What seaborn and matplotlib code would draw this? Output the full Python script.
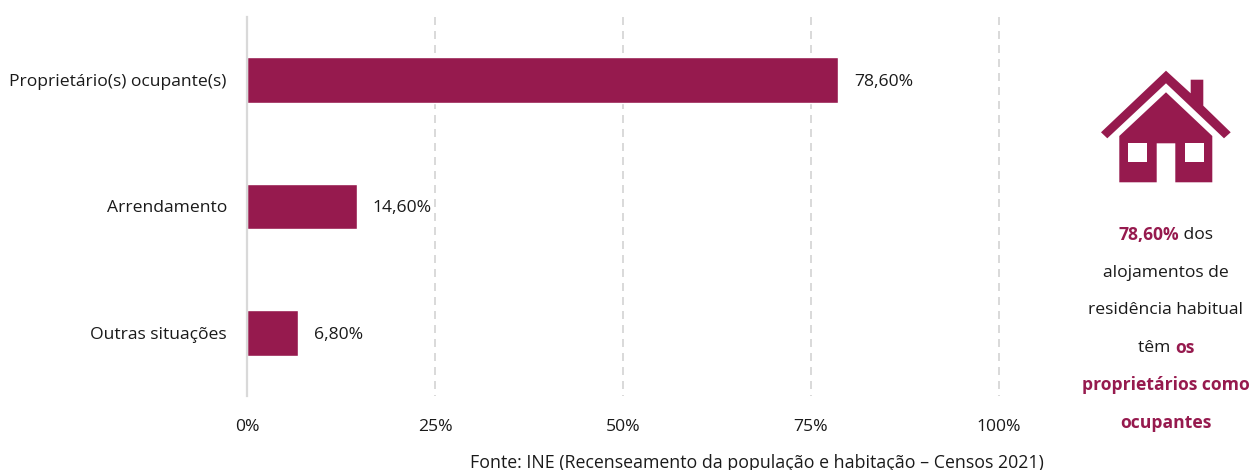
import matplotlib
matplotlib.use("Agg")
import matplotlib.pyplot as plt
from matplotlib.patches import Polygon, Rectangle
import pandas as pd
import seaborn as sns

categories = ["Proprietário(s) ocupante(s)", "Arrendamento", "Outras situações"]
values = [78.6, 14.6, 6.8]
value_labels = ["78,60%", "14,60%", "6,80%"]
x_ticks = [0, 25, 50, 75, 100]
x_tick_labels = ["0%", "25%", "50%", "75%", "100%"]
source_text = "Fonte: INE (Recenseamento da população e habitação – Censos 2021)"

# Callout lines: each is a list of (text, emphasised) runs
callout_lines = [
    [("78,60%", True), (" dos", False)],
    [("alojamentos de", False)],
    [("residência habitual", False)],
    [("têm ", False), ("os", True)],
    [("proprietários como", True)],
    [("ocupantes", True)],
]

WIDTH, HEIGHT = 1251, 470
BAR_COLOR = "#961A4E"
GRID_COLOR = "#D9D9D9"
TEXT_COLOR = "#1A1A1A"

sns.set_theme(style="white")
plt.rcParams["font.family"] = ["Open Sans", "DejaVu Sans"]
FONT_SIZE = 12.6

fig = plt.figure(figsize=(WIDTH / 100, HEIGHT / 100), dpi=100)
left, right, top, bottom = 247, 999, 17, 396
ax = fig.add_axes([left / WIDTH, 1 - bottom / HEIGHT,
                   (right - left) / WIDTH, (bottom - top) / HEIGHT])

df = pd.DataFrame({"categoria": categories, "valor": values})
sns.barplot(data=df, x="valor", y="categoria", orient="h", color=BAR_COLOR,
            saturation=1, width=0.36, ax=ax, zorder=3)

ax.set_xlim(0, 100)
ax.set_ylim(2.5, -0.5)
ax.set_xlabel("")
ax.set_ylabel("")
ax.set_xticks(x_ticks)
ax.set_xticklabels(x_tick_labels, fontsize=FONT_SIZE, color=TEXT_COLOR)
ax.tick_params(axis="x", length=0, pad=16.5)
ax.tick_params(axis="y", length=0, pad=14.5, labelsize=FONT_SIZE, labelcolor=TEXT_COLOR)
for label in ax.get_yticklabels():
    label.set_verticalalignment("center_baseline")

for spine in ("top", "right", "bottom"):
    ax.spines[spine].set_visible(False)
ax.spines["left"].set_color(GRID_COLOR)
ax.spines["left"].set_linewidth(1.6)
ax.spines["left"].set_zorder(4)

# Dashed guides run from the top down, unclipped so the 100% line keeps its full width
for tick in x_ticks[1:]:
    ax.axvline(tick, ymin=1, ymax=0, color=GRID_COLOR, linewidth=1.4,
               linestyle=(0, (4.1, 3.1)), zorder=1, clip_on=False)

for i, (value, label) in enumerate(zip(values, value_labels)):
    ax.annotate(label, xy=(value, i), xytext=(11.5, 0), textcoords="offset points",
                ha="left", va="center_baseline", fontsize=FONT_SIZE, color=TEXT_COLOR, zorder=5)

# Overlay in pixel coordinates for the house icon and side text
overlay = fig.add_axes([0, 0, 1, 1])
overlay.set_xlim(0, WIDTH)
overlay.set_ylim(HEIGHT, 0)
overlay.axis("off")
overlay.patch.set_alpha(0)

roof = [(1166, 70.7), (1190.7, 93.3), (1190.7, 79.7), (1203.3, 79.7), (1203.3, 105.7),
        (1230.7, 132.3), (1224, 138.3), (1166, 83.3), (1107.3, 138.3), (1101, 132.3)]
body = [(1166, 92.3), (1212.3, 136), (1212.3, 182.3), (1175.3, 182.3), (1175.3, 143.3),
        (1156.7, 143.3), (1156.7, 182.3), (1119.3, 182.3), (1119.3, 136)]
overlay.add_patch(Polygon(roof, closed=True, facecolor=BAR_COLOR, edgecolor="none"))
overlay.add_patch(Polygon(body, closed=True, facecolor=BAR_COLOR, edgecolor="none"))
for wx in (1128.3, 1184.7):
    overlay.add_patch(Rectangle((wx, 143.3), 18.8, 18.7, facecolor="white", edgecolor="none"))

# Centre each callout line by measuring its mixed-weight runs
renderer = fig.canvas.get_renderer()
line_ys = [233, 271, 308.5, 346, 383.5, 421]
center_x = 1166
for line, y in zip(callout_lines, line_ys):
    texts = []
    for run, bold in line:
        texts.append(overlay.text(0, y, run, va="center_baseline", ha="left", fontsize=FONT_SIZE,
                                  fontweight="bold" if bold else "normal",
                                  color=BAR_COLOR if bold else TEXT_COLOR))
    widths = []
    for t, (run, _) in zip(texts, line):
        # Measure with a guard character so leading and trailing spaces count
        t.set_text(run + "|")
        w_full = t.get_window_extent(renderer).width
        t.set_text("|")
        w_bar = t.get_window_extent(renderer).width
        t.set_text(run)
        widths.append(w_full - w_bar)
    x = center_x - sum(widths) / 2
    for t, w in zip(texts, widths):
        t.set_x(x)
        x += w

overlay.text(757, 461, source_text, ha="center", va="center_baseline",
             fontsize=12.75, color=TEXT_COLOR)

fig.savefig("out.png", dpi=100, facecolor="white")
